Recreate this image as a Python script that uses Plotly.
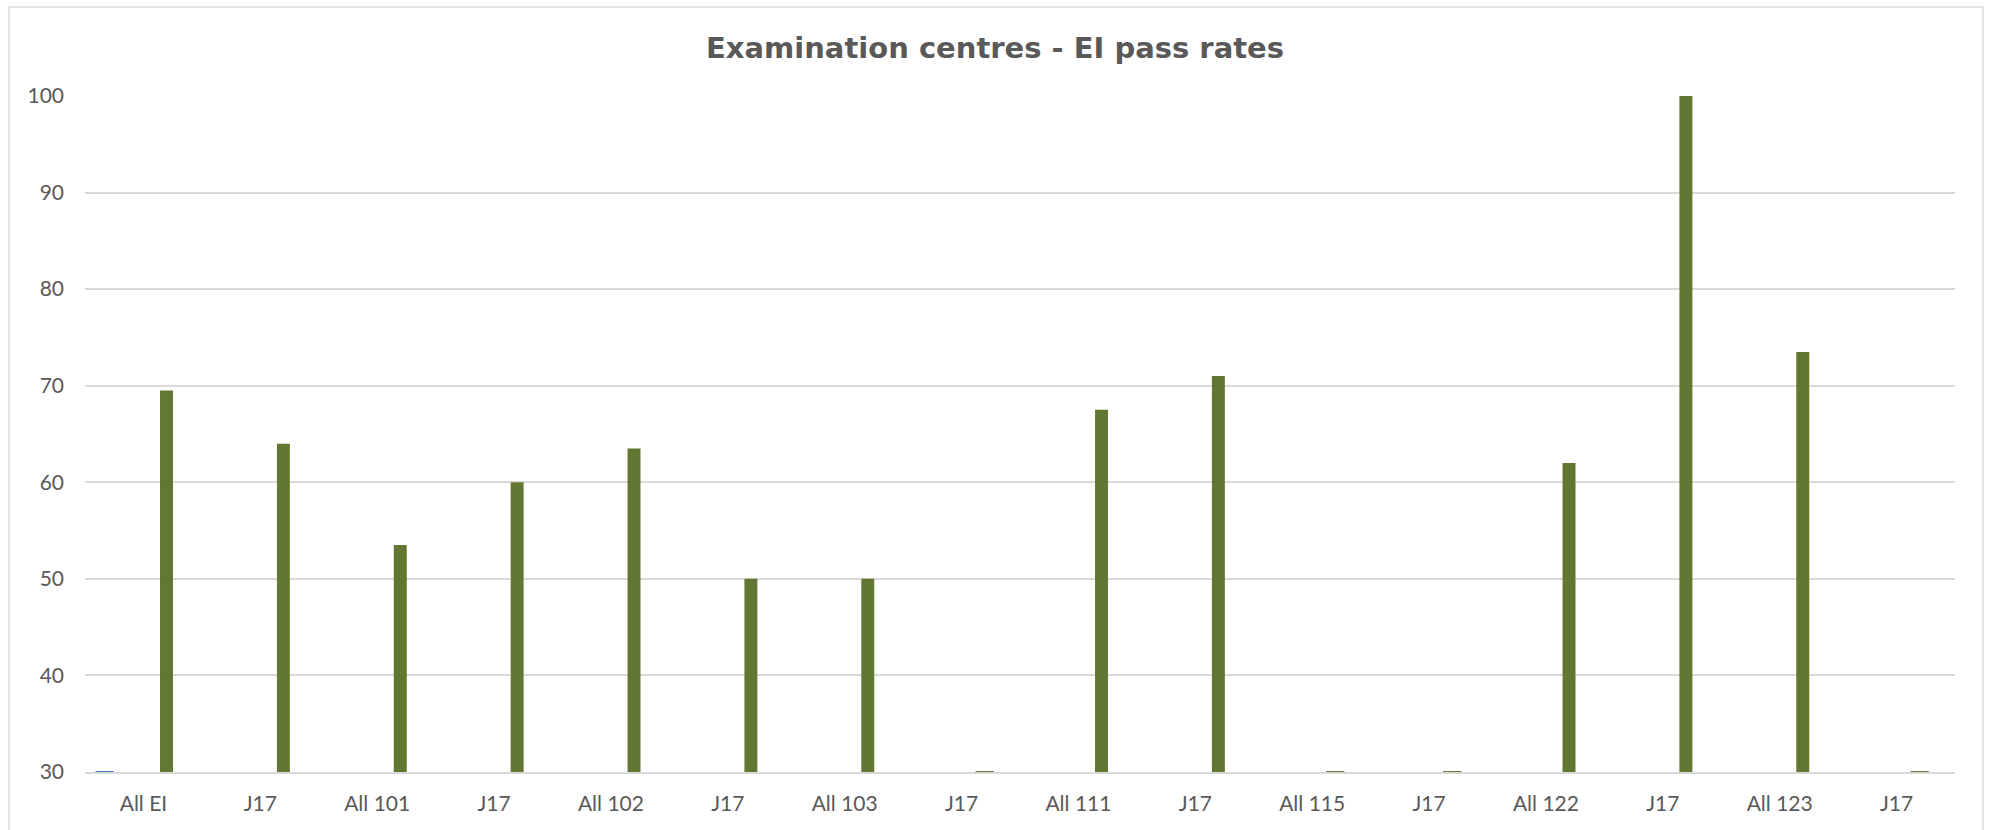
import plotly.graph_objects as go

# ---- data ----
CATEGORIES = ["All EI", "J17", "All 101", "J17", "All 102", "J17", "All 103", "J17",
              "All 111", "J17", "All 115", "J17", "All 122", "J17", "All 123", "J17"]
GREEN_VALUES = [69.5, 64, 53.5, 60, 63.5, 50, 50, 0, 67.5, 71, 0, 0, 62, 100, 73.5, 0]
BLUE_VALUES = [0, None, None, None, None, None, None, None,
               None, None, None, None, None, None, None, None]
Y_TICKS = [30, 40, 50, 60, 70, 80, 90, 100]
TITLE = "Examination centres - EI pass rates"

# ---- style ----
W, H = 1990, 830
L, R, T, B = 85, 35, 96, 58
Y_MIN, Y_MAX = 30, 100
BAR_W = 0.111
GREEN_OFF = 0.142
BLUE_OFF = -0.388
GREEN = "#627832"
BLUE = "#4472C4"
GRID = "#d9d9d9"
TXT = "#595959"
TICK_FONT = dict(family="Lato", size=21, color=TXT)

idx = list(range(len(CATEGORIES)))

fig = go.Figure()
fig.add_trace(go.Bar(
    x=idx, y=GREEN_VALUES, width=BAR_W, offset=GREEN_OFF,
    marker=dict(color=GREEN, line=dict(width=0)), showlegend=False,
))
fig.add_trace(go.Bar(
    x=idx, y=BLUE_VALUES, width=BAR_W, offset=BLUE_OFF,
    marker=dict(color=BLUE, line=dict(width=0)), showlegend=False,
))

# values at/below the axis minimum are drawn as flat dashes on the baseline
for vals, off, col in [(GREEN_VALUES, GREEN_OFF, GREEN), (BLUE_VALUES, BLUE_OFF, BLUE)]:
    xs = [i + off + BAR_W / 2 for i, v in zip(idx, vals) if v is not None and v <= Y_MIN]
    ys = [Y_MIN for v in vals if v is not None and v <= Y_MIN]
    fig.add_trace(go.Scatter(
        x=xs, y=ys, mode="markers", cliponaxis=False, showlegend=False,
        marker=dict(symbol="line-ew", size=13, line=dict(width=2, color=col)),
    ))

pw = W - L - R
ph = H - T - B
fig.add_shape(
    type="rect", xref="paper", yref="paper",
    x0=(9 - L) / pw, x1=(1983 - L) / pw,
    y0=(H - B - 900) / ph, y1=(H - B - 7) / ph,
    line=dict(color=GRID, width=1.5), fillcolor="rgba(0,0,0,0)", layer="below",
)

fig.update_layout(
    width=W, height=H,
    margin=dict(l=L, r=R, t=T, b=B, autoexpand=False),
    paper_bgcolor="white", plot_bgcolor="white",
    barmode="overlay",
    title=dict(text=f"<b>{TITLE}</b>", x=0.5, xanchor="center",
               y=1 - 48 / H, yanchor="middle", yref="container",
               font=dict(family="DejaVu Sans", size=29, color=TXT)),
    font=TICK_FONT,
    xaxis=dict(
        range=[-0.5, len(CATEGORIES) - 0.5],
        tickmode="array", tickvals=idx, ticktext=CATEGORIES,
        showgrid=False, zeroline=False, showline=True, linecolor=GRID, linewidth=1.5,
        ticks="", ticklabelstandoff=12, tickfont=TICK_FONT,
    ),
    yaxis=dict(
        range=[Y_MIN, Y_MAX], tickmode="array", tickvals=Y_TICKS,
        showgrid=True, gridcolor=GRID, gridwidth=1.5, zeroline=False, showline=False,
        ticks="", ticklabelstandoff=20, tickfont=TICK_FONT,
    ),
)

fig.write_html("out.html", config={"displayModeBar": False},
               post_script="document.body.style.margin='0';")
